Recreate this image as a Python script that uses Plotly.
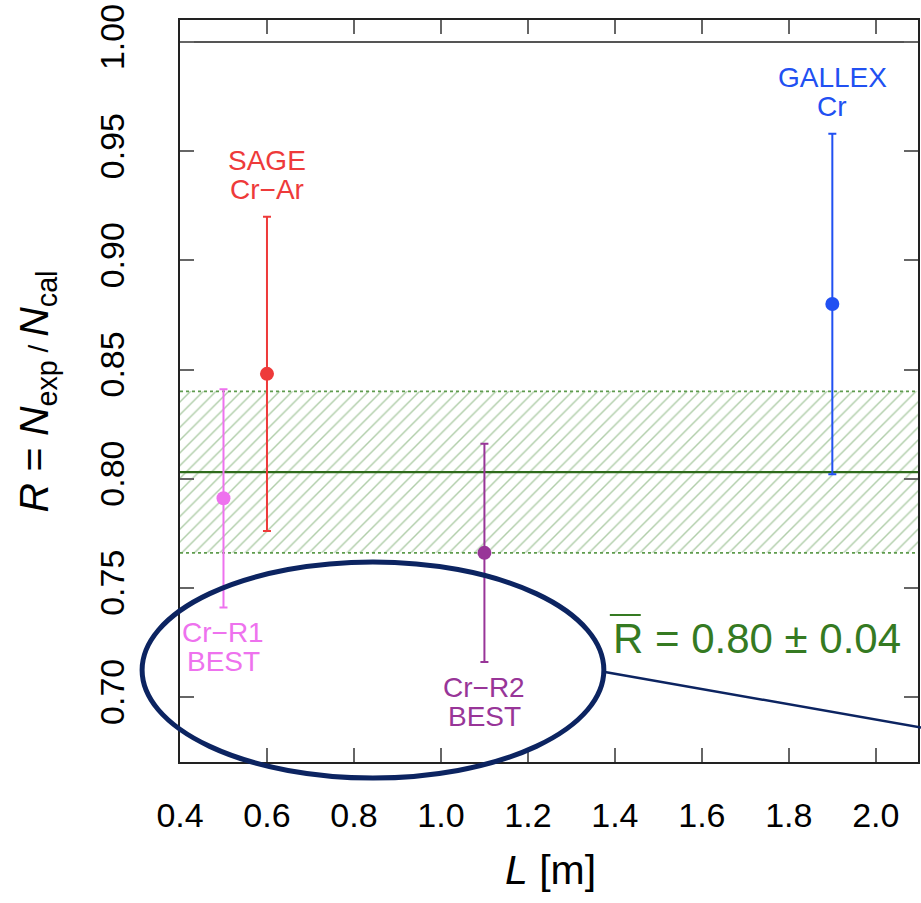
import plotly.graph_objects as go

# Measurements: ratio R = N_exp / N_cal versus distance L
names = ["Cr\u2212R1\nBEST", "SAGE\nCr\u2212Ar", "Cr\u2212R2\nBEST", "GALLEX\nCr"]
L_m = [0.5, 0.6, 1.1, 1.9]
R_val = [0.791, 0.848, 0.766, 0.880]
R_err = [0.050, 0.072, 0.050, 0.078]
colors = ["#ee72ee", "#ee3a3a", "#983598", "#2150f2"]
label_side = ["below", "above", "below", "above"]

# Weighted average band
R_mean = 0.803
R_mean_err = 0.037
R_unity = 1.0

# Axis ranges and ticks
x_range = [0.4, 2.097]
y_range = [0.6702, 1.0101]
x_ticks = [0.4, 0.6, 0.8, 1.0, 1.2, 1.4, 1.6, 1.8, 2.0]
y_ticks = [0.70, 0.75, 0.80, 0.85, 0.90, 0.95, 1.00]

FONT = "Liberation Sans, Arial, Helvetica, sans-serif"
GREEN_TEXT = "#357a22"
GREEN_LINE = "#2f6b1c"
GREEN_HATCH = "#5f9c4e"
NAVY = "#0c2461"

fig = go.Figure()

# Hatched uncertainty band around the mean
fig.add_trace(go.Scatter(
    x=x_range, y=[R_mean - R_mean_err] * 2, mode="lines",
    line=dict(color=GREEN_HATCH, width=1.6, dash="dot"),
    hoverinfo="skip", showlegend=False))
fig.add_trace(go.Scatter(
    x=x_range, y=[R_mean + R_mean_err] * 2, mode="lines",
    line=dict(color=GREEN_HATCH, width=1.6, dash="dot"),
    fill="tonexty", fillcolor="rgba(0,0,0,0)",
    fillpattern=dict(shape="/", fgcolor="rgba(80,145,65,0.9)",
                     bgcolor="rgba(0,0,0,0)", size=9, solidity=0.16),
    hoverinfo="skip", showlegend=False))
# Mean value line
fig.add_trace(go.Scatter(
    x=x_range, y=[R_mean] * 2, mode="lines",
    line=dict(color=GREEN_LINE, width=2.2),
    hoverinfo="skip", showlegend=False))
# R = 1 reference line
fig.add_trace(go.Scatter(
    x=x_range, y=[R_unity] * 2, mode="lines",
    line=dict(color="#555555", width=2),
    hoverinfo="skip", showlegend=False))

# Individual measurements with error bars
for name, x, r, e, c in zip(names, L_m, R_val, R_err, colors):
    fig.add_trace(go.Scatter(
        x=[x], y=[r], mode="markers",
        marker=dict(color=c, size=14),
        error_y=dict(type="data", array=[e], color=c, thickness=2, width=4),
        name=name.replace("\n", " "), showlegend=False))

# Experiment labels, two lines each, placed beyond the error bar end
annotations = []
for name, x, r, e, c, side in zip(names, L_m, R_val, R_err, colors, label_side):
    lines = name.split("\n")
    if side == "above":
        y_end = r + e
        shifts = [56, 27]
    else:
        y_end = r - e
        shifts = [-25, -54]
    for txt, sh in zip(lines, shifts):
        annotations.append(dict(
            x=x, y=y_end, xref="x", yref="y", text=txt, showarrow=False,
            xanchor="center", yanchor="middle", yshift=sh,
            font=dict(family=FONT, size=28, color=c)))

# Mean value label
annotations.append(dict(
    x=(612 - 180) / 740, y=(762 - 638) / 742, xref="paper", yref="paper",
    text=f"R = {R_mean:.2f} \u00b1 {R_mean_err:.2f}", showarrow=False,
    xanchor="left", yanchor="middle",
    font=dict(family=FONT, size=42, color=GREEN_TEXT)))

# Axis titles
annotations.append(dict(
    x=(552 - 180) / 740, y=(762 - 870) / 742, xref="paper", yref="paper",
    text="<i>L</i> [m]", showarrow=False, xanchor="center", yanchor="middle",
    font=dict(family=FONT, size=41, color="#000000")))
annotations.append(dict(
    x=(37 - 180) / 740, y=0.5, xref="paper", yref="paper", textangle=-90,
    text="<i>R</i> = <i>N</i><sub>exp</sub><span style='font-size:28px'> / </span><i>N</i><sub>cal</sub>",
    showarrow=False, xanchor="center", yanchor="middle",
    font=dict(family=FONT, size=41, color="#000000")))

shapes = [
    # overline on the mean symbol
    dict(type="line", xref="paper", yref="paper",
         x0=(611 - 180) / 740, x1=(642 - 180) / 740,
         y0=(762 - 615) / 742, y1=(762 - 615) / 742,
         line=dict(color=GREEN_TEXT, width=2)),
    # highlight ellipse and its pointer line
    dict(type="circle", xref="paper", yref="paper",
         x0=(142 - 180) / 740, x1=(605 - 180) / 740,
         y0=(762 - 778) / 742, y1=(762 - 562) / 742,
         line=dict(color=NAVY, width=5)),
    dict(type="line", xref="paper", yref="paper",
         x0=(606 - 180) / 740, y0=(762 - 672) / 742,
         x1=(980 - 180) / 740, y1=(762 - 737.5) / 742,
         line=dict(color=NAVY, width=2.5)),
]

axis_common = dict(
    showline=True, linecolor="#222222", linewidth=2, mirror="ticks",
    ticks="inside", ticklen=14, tickwidth=1.5, tickcolor="#666666",
    showgrid=False, zeroline=False,
    tickfont=dict(family=FONT, size=34, color="#000000"))

fig.update_layout(
    width=921, height=903,
    margin=dict(l=180, r=1, t=20, b=141),
    paper_bgcolor="white", plot_bgcolor="white",
    xaxis=dict(range=x_range, tickvals=x_ticks,
               ticktext=[f"{v:.1f}" for v in x_ticks],
               ticklabelstandoff=22, **axis_common),
    yaxis=dict(range=y_range, tickvals=y_ticks,
               ticktext=[f"{v:.2f}" for v in y_ticks],
               tickangle=-90, ticklabelstandoff=40, **axis_common),
    annotations=annotations, shapes=shapes,
)

fig.write_html("out.html")
